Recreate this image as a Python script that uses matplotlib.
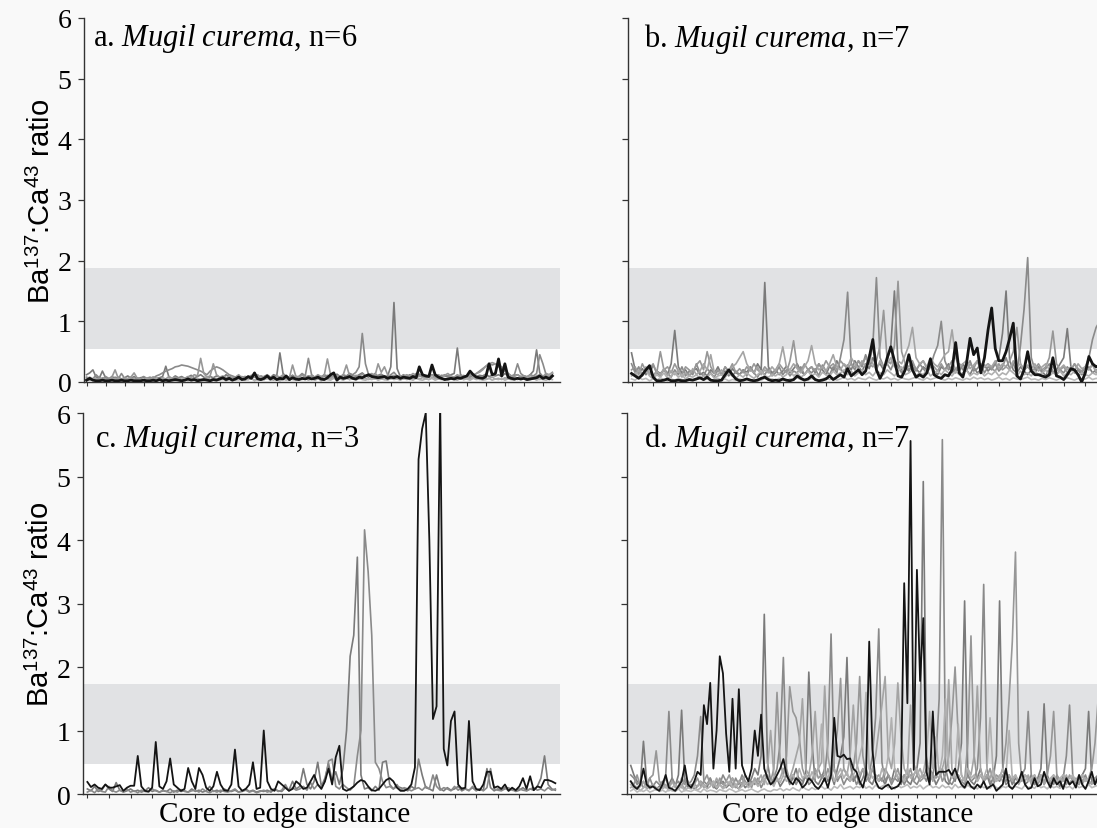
import numpy as np
import matplotlib.pyplot as plt

plt.rcParams['font.family'] = 'Liberation Serif'
plt.rcParams['mathtext.fontset'] = 'custom'
plt.rcParams['mathtext.rm'] = 'Liberation Serif'
plt.rcParams['mathtext.it'] = 'Liberation Serif:italic'
plt.rcParams['mathtext.sf'] = 'Liberation Sans'

# Ba137:Ca43 ratio x 100
# panel a (n=6)
a_black = [3, 6, 3, 2, 2, 3, 2, 2, 3, 2, 2, 3, 2, 2, 3, 2, 2, 2, 3, 2,
           2, 3, 2, 4, 2, 3, 2, 3, 4, 3, 2, 3, 5, 3, 4, 2, 3, 4, 3, 2,
           4, 3, 5, 7, 4, 6, 3, 5, 8, 4, 5, 9, 6, 15, 5, 4, 6, 10, 5, 8,
           4, 6, 5, 10, 4, 7, 5, 4, 6, 5, 7, 5, 6, 8, 5, 4, 7, 12, 15, 3,
           8, 6, 7, 9, 6, 5, 8, 7, 10, 12, 9, 8, 7, 8, 9, 6, 8, 7, 9, 6,
           8, 7, 6, 9, 7, 25, 12, 10, 9, 28, 12, 8, 6, 4, 5, 6, 5, 7, 6, 8,
           10, 18, 12, 8, 7, 6, 9, 30, 12, 14, 38, 10, 30, 8, 6, 5, 6, 5, 6, 4,
           5, 6, 7, 10, 6, 8, 5, 10]
a_g1 = [12, 15, 20, 8, 6, 18, 7, 5, 9, 6, 8, 5, 7, 10, 6, 9, 5, 7, 8, 6,
        5, 8, 6, 7, 9, 26, 8, 6, 10, 7, 9, 6, 8, 11, 7, 9, 12, 8, 6, 9,
        7, 10, 8, 6, 12, 9, 7, 8, 10, 6, 9, 7, 11, 8, 6, 10, 8, 9, 7, 12,
        10, 48, 14, 9, 8, 11, 7, 9, 12, 8, 10, 9, 7, 11, 8, 12, 9, 10, 7, 13,
        9, 11, 8, 14, 10, 9, 12, 15, 10, 8, 12, 9, 11, 13, 8, 10, 25, 131, 22, 9,
        11, 8, 12, 10, 9, 13, 8, 11, 10, 12, 9, 8, 11, 10, 9, 12, 14, 56, 12, 9,
        10, 8, 12, 9, 11, 10, 13, 9, 11, 10, 12, 9, 14, 10, 8, 11, 12, 9, 10, 8,
        12, 18, 53, 15, 9, 11, 8, 14]
a_g2 = [8, 6, 5, 12, 7, 5, 9, 6, 4, 8, 5, 14, 6, 5, 8, 4, 7, 5, 9, 6,
        8, 6, 10, 12, 15, 18, 20, 22, 25, 26, 28, 27, 26, 24, 22, 20, 18, 15, 12, 18,
        22, 25, 23, 20, 16, 12, 10, 8, 7, 9, 6, 8, 7, 10, 8, 6, 9, 12, 8, 6,
        10, 7, 9, 6, 8, 11, 7, 9, 14, 10, 39, 12, 8, 10, 7, 9, 11, 8, 10, 9,
        7, 12, 10, 14, 12, 16, 25, 80, 30, 12, 10, 14, 9, 12, 10, 8, 12, 16, 10, 8,
        12, 9, 10, 8, 14, 11, 9, 7, 10, 12, 8, 11, 9, 12, 10, 8, 7, 9, 11, 8,
        9, 12, 10, 14, 18, 22, 26, 30, 28, 30, 25, 22, 18, 14, 10, 12, 30, 14, 10, 8,
        12, 10, 14, 45, 30, 12, 8, 10]
a_g3 = [5, 8, 4, 6, 3, 7, 5, 4, 8, 20, 6, 4, 7, 5, 8, 15, 6, 5, 4, 7,
        5, 8, 6, 4, 7, 5, 9, 6, 8, 5, 7, 6, 9, 8, 12, 10, 39, 14, 8, 10,
        30, 12, 8, 10, 7, 9, 6, 8, 12, 7, 9, 6, 10, 8, 12, 7, 9, 11, 8, 6,
        10, 8, 12, 9, 7, 28, 10, 8, 11, 9, 7, 10, 8, 12, 9, 11, 38, 12, 8, 10,
        9, 12, 28, 10, 8, 11, 9, 13, 10, 12, 14, 10, 30, 16, 25, 12, 9, 11, 8, 10,
        9, 12, 10, 14, 11, 9, 12, 10, 8, 11, 10, 12, 9, 11, 14, 10, 8, 12, 9, 11,
        8, 10, 12, 14, 16, 20, 26, 30, 32, 30, 28, 25, 20, 14, 10, 9, 12, 8, 10, 9,
        11, 8, 10, 12, 9, 14, 12, 16]
a_g4 = [4, 3, 6, 2, 5, 3, 4, 2, 6, 3, 5, 2, 4, 6, 3, 5, 2, 4, 3, 6,
        3, 5, 2, 4, 6, 3, 5, 7, 4, 6, 3, 5, 4, 7, 3, 6, 4, 5, 8, 4,
        6, 3, 5, 4, 7, 5, 3, 6, 4, 5, 7, 4, 6, 3, 5, 8, 4, 6, 5, 3,
        6, 4, 7, 5, 3, 6, 8, 4, 5, 7, 4, 6, 3, 5, 7, 4, 6, 5, 8, 4,
        6, 5, 7, 4, 8, 6, 5, 9, 6, 4, 7, 5, 8, 6, 4, 7, 5, 9, 6, 8,
        5, 7, 4, 6, 8, 5, 7, 6, 4, 8, 6, 5, 7, 4, 6, 8, 5, 7, 6, 4,
        7, 5, 8, 6, 4, 7, 5, 6, 8, 5, 6, 4, 7, 5, 8, 6, 4, 7, 5, 6,
        8, 5, 7, 4, 6, 9, 12, 14]
a_g5 = [2, 4, 3, 5, 2, 3, 4, 2, 3, 5, 3, 2, 4, 3, 5, 2, 3, 4, 2, 3,
        4, 2, 5, 3, 2, 4, 3, 5, 2, 4, 3, 5, 2, 4, 6, 3, 4, 2, 5, 3,
        4, 6, 3, 5, 2, 4, 6, 3, 4, 5, 3, 4, 6, 2, 5, 3, 4, 6, 3, 5,
        4, 2, 5, 3, 6, 4, 3, 5, 4, 6, 3, 5, 4, 6, 2, 5, 4, 3, 6, 4,
        5, 3, 6, 4, 5, 3, 6, 4, 3, 5, 4, 6, 3, 5, 4, 3, 6, 4, 5, 3,
        6, 4, 5, 3, 6, 4, 3, 5, 4, 6, 3, 5, 4, 6, 3, 5, 4, 3, 6, 4,
        5, 3, 6, 4, 5, 3, 4, 6, 3, 5, 4, 6, 3, 5, 4, 3, 6, 4, 5, 3,
        4, 6, 3, 5, 4, 3, 5, 4]

# panel b (n=7)
b_black = [14, 10, 6, 12, 20, 27, 8, 2, 2, 3, 5, 2, 2, 3, 2, 2, 4, 3, 5, 7,
           4, 8, 3, 2, 2, 3, 12, 20, 12, 5, 2, 3, 5, 3, 2, 3, 6, 8, 4, 2,
           3, 2, 5, 3, 2, 4, 10, 6, 3, 5, 10, 4, 2, 3, 5, 10, 4, 8, 12, 8,
           22, 10, 15, 20, 12, 18, 40, 70, 20, 6, 18, 40, 58, 35, 10, 8, 20, 45, 20, 8,
           12, 8, 15, 38, 12, 8, 6, 12, 10, 20, 65, 15, 8, 30, 72, 45, 56, 15, 40, 86,
           122, 55, 35, 35, 50, 72, 97, 10, 5, 20, 50, 18, 12, 12, 10, 8, 12, 40, 10, 8,
           4, 12, 22, 20, 12, 0, 15, 42, 30, 25, 28]
b_g1 = [48, 20, 15, 22, 12, 25, 10, 18, 14, 20, 12, 30, 85, 25, 15, 20, 10, 18, 22, 12,
        16, 10, 20, 14, 25, 12, 18, 10, 22, 15, 12, 20, 16, 25, 14, 30, 20, 164, 25, 15,
        20, 12, 18, 26, 15, 22, 30, 18, 12, 20, 25, 15, 30, 20, 12, 26, 18, 35, 22, 15,
        28, 20, 35, 25, 18, 30, 22, 40, 25, 30, 20, 35, 60, 150, 30, 20, 25, 18, 30, 22,
        15, 25, 20, 30, 18, 12, 25, 20, 30, 15, 22, 18, 30, 20, 12, 25, 15, 20, 28, 18,
        25, 30, 40, 80, 150, 35, 20, 15, 25, 18, 12, 20, 15, 25, 18, 10, 22, 15, 20, 30,
        40, 88, 25, 15, 20, 12, 18, 25, 15, 20, 22]
b_g2 = [30, 15, 25, 10, 20, 12, 28, 15, 10, 22, 15, 8, 20, 12, 25, 10, 18, 12, 30, 15,
        10, 22, 15, 8, 20, 12, 25, 15, 10, 18, 12, 20, 10, 25, 15, 8, 18, 12, 22, 10,
        15, 25, 12, 20, 10, 18, 15, 25, 12, 20, 15, 22, 10, 28, 18, 12, 25, 15, 40, 70,
        148, 30, 20, 35, 25, 45, 30, 60, 172, 40, 25, 30, 20, 35, 25, 15, 30, 20, 25, 18,
        30, 22, 15, 25, 45, 60, 100, 35, 20, 25, 15, 30, 20, 25, 35, 18, 22, 30, 15, 25,
        20, 30, 18, 25, 40, 22, 30, 15, 60, 120, 205, 40, 20, 25, 15, 22, 30, 18, 12, 20,
        15, 25, 18, 30, 20, 15, 25, 40, 70, 90, 100]
b_g3 = [20, 25, 12, 30, 18, 22, 30, 15, 50, 20, 25, 15, 30, 18, 12, 25, 20, 15, 28, 35,
        20, 50, 25, 15, 20, 12, 25, 18, 30, 15, 22, 15, 25, 18, 30, 20, 15, 25, 18, 12,
        20, 30, 22, 15, 35, 68, 25, 18, 30, 20, 25, 18, 30, 22, 35, 25, 30, 20, 35, 28,
        22, 30, 25, 35, 28, 40, 30, 25, 35, 60, 118, 35, 30, 60, 166, 50, 30, 25, 35, 20,
        28, 35, 22, 30, 25, 18, 30, 20, 25, 35, 20, 30, 25, 18, 30, 22, 35, 20, 25, 30,
        22, 18, 30, 20, 25, 35, 50, 90, 30, 20, 25, 18, 22, 30, 20, 25, 40, 84, 30, 20,
        25, 15, 20, 30, 22, 18, 25, 20, 30, 15, 20]
b_g4 = [15, 10, 20, 12, 25, 15, 8, 18, 12, 22, 10, 18, 12, 20, 8, 15, 10, 22, 12, 18,
        30, 20, 45, 15, 12, 20, 10, 18, 25, 30, 40, 50, 30, 20, 15, 25, 12, 20, 15, 25,
        18, 30, 58, 25, 20, 30, 22, 15, 25, 35, 60, 30, 20, 25, 18, 30, 45, 25, 20, 30,
        25, 40, 30, 20, 35, 25, 45, 30, 20, 35, 25, 30, 40, 25, 35, 30, 45, 60, 90, 40,
        30, 35, 25, 40, 30, 25, 35, 45, 50, 86, 40, 25, 30, 35, 22, 28, 35, 20, 25, 30,
        25, 35, 22, 30, 25, 20, 35, 25, 30, 20, 28, 22, 30, 18, 25, 30, 20, 25, 18, 22,
        28, 20, 25, 18, 30, 22, 25, 20, 28, 18, 25]
b_g5 = [10, 15, 8, 12, 18, 10, 5, 12, 8, 15, 6, 10, 15, 8, 12, 5, 10, 8, 12, 6,
        10, 8, 14, 6, 10, 12, 8, 15, 10, 6, 12, 8, 15, 10, 6, 12, 18, 10, 8, 12,
        10, 15, 8, 12, 20, 10, 15, 8, 12, 18, 10, 14, 8, 16, 12, 10, 18, 12, 15, 20,
        12, 18, 10, 15, 20, 12, 16, 10, 18, 15, 12, 20, 15, 10, 18, 25, 12, 15, 20, 10,
        15, 12, 20, 10, 15, 18, 12, 20, 15, 10, 18, 12, 15, 20, 10, 15, 12, 18, 10, 15,
        12, 18, 10, 15, 12, 20, 15, 10, 18, 12, 15, 10, 18, 12, 15, 20, 10, 15, 12, 18,
        10, 15, 12, 18, 10, 15, 12, 10, 15, 12, 18]
b_g6 = [5, 3, 8, 4, 6, 2, 5, 3, 7, 4, 2, 5, 3, 6, 4, 2, 5, 3, 4, 6,
        3, 5, 2, 4, 6, 3, 5, 2, 4, 3, 5, 3, 6, 4, 2, 5, 3, 6, 4, 5,
        3, 6, 4, 2, 5, 3, 7, 4, 5, 3, 6, 4, 3, 5, 7, 4, 6, 3, 5, 8,
        4, 6, 3, 7, 5, 4, 8, 5, 3, 6, 5, 8, 4, 6, 3, 7, 5, 4, 6, 8,
        5, 3, 7, 4, 6, 8, 5, 3, 6, 4, 7, 5, 3, 6, 4, 8, 5, 7, 4, 6,
        3, 5, 8, 4, 6, 3, 7, 5, 4, 6, 8, 4, 5, 3, 6, 4, 7, 5, 3, 6,
        4, 7, 5, 3, 6, 4, 5, 8, 4, 6, 5]

# panel c (n=3)
c_black = [19, 11, 15, 10, 8, 15, 10, 10, 12, 14, 5, 10, 13, 13, 60, 12, 5, 4, 10, 82,
           12, 8, 20, 56, 15, 10, 5, 8, 41, 20, 8, 41, 30, 10, 5, 12, 35, 15, 6, 5,
           15, 70, 12, 5, 8, 15, 50, 8, 10, 100, 20, 8, 5, 20, 15, 10, 5, 8, 20, 15,
           8, 10, 20, 30, 15, 8, 20, 40, 15, 58, 76, 8, 5, 8, 12, 18, 22, 20, 12, 6,
           5, 8, 15, 22, 25, 20, 10, 5, 5, 8, 15, 42, 527, 575, 600, 400, 118, 138, 620, 71,
           45, 115, 130, 15, 8, 10, 115, 20, 8, 6, 15, 35, 35, 10, 12, 8, 15, 5, 10, 6,
           12, 25, 8, 28, 6, 12, 10, 22, 22, 20, 17]
c_g1 = [8, 5, 12, 4, 6, 15, 8, 4, 18, 6, 3, 5, 8, 4, 6, 3, 5, 10, 4, 6,
        3, 5, 4, 8, 3, 6, 4, 5, 3, 8, 4, 6, 3, 5, 12, 4, 6, 3, 8, 5,
        4, 6, 3, 5, 8, 4, 6, 3, 5, 4, 6, 3, 8, 5, 4, 10, 6, 20, 8, 12,
        40, 15, 8, 20, 50, 12, 25, 48, 20, 35, 15, 40, 100, 217, 250, 373, 30, 8, 10, 5,
        12, 6, 50, 52, 15, 8, 12, 10, 8, 5, 12, 8, 55, 30, 10, 8, 5, 30, 8, 5,
        10, 6, 8, 12, 5, 8, 6, 10, 5, 8, 6, 40, 10, 5, 8, 6, 10, 5, 8, 4,
        6, 10, 5, 8, 6, 12, 25, 60, 15, 8, 6]
c_g2 = [3, 6, 2, 8, 4, 3, 12, 5, 3, 6, 4, 8, 3, 5, 2, 6, 4, 3, 8, 5,
        3, 6, 4, 2, 5, 3, 7, 4, 3, 5, 6, 3, 8, 4, 2, 5, 3, 6, 4, 3,
        5, 8, 3, 4, 6, 3, 5, 2, 4, 6, 3, 5, 8, 4, 6, 15, 5, 10, 6, 8,
        12, 6, 18, 8, 15, 10, 20, 52, 55, 12, 8, 15, 10, 6, 12, 60, 100, 416, 350, 250,
        50, 40, 20, 10, 12, 8, 15, 6, 10, 8, 5, 8, 10, 6, 12, 8, 30, 12, 6, 10,
        8, 5, 12, 6, 10, 8, 5, 12, 6, 8, 5, 10, 40, 8, 6, 5, 8, 10, 6, 5,
        8, 6, 5, 8, 10, 6, 8, 5, 10, 6, 8]

# panel d (n=7)
d_black = [20, 12, 8, 15, 40, 15, 10, 12, 8, 5, 15, 30, 10, 8, 5, 12, 20, 45, 15, 10,
           20, 35, 30, 140, 110, 175, 40, 100, 217, 190, 95, 35, 150, 40, 165, 45, 30, 20, 40, 100,
           60, 125, 40, 25, 15, 20, 30, 40, 55, 30, 20, 15, 25, 20, 10, 15, 25, 20, 12, 8,
           15, 25, 10, 30, 120, 60, 58, 62, 55, 56, 40, 35, 20, 10, 30, 240, 70, 20, 10, 8,
           12, 15, 8, 10, 12, 20, 332, 143, 556, 38, 353, 178, 277, 35, 15, 130, 30, 35, 35, 35,
           38, 30, 40, 25, 15, 10, 20, 12, 8, 15, 10, 20, 8, 12, 15, 5, 10, 15, 40, 12,
           8, 15, 20, 35, 15, 8, 10, 25, 12, 15, 35, 20, 10, 25, 15, 20, 8, 25, 15, 20,
           10, 30, 15, 8, 20, 35, 15, 28]
d_g1 = [45, 30, 20, 15, 83, 20, 10, 15, 8, 12, 20, 10, 15, 25, 12, 30, 132, 20, 10, 15,
        8, 12, 20, 15, 10, 25, 12, 8, 15, 20, 10, 15, 25, 12, 8, 18, 10, 15, 25, 40,
        30, 60, 283, 50, 20, 15, 25, 12, 20, 30, 15, 25, 40, 20, 15, 30, 192, 80, 20, 15,
        25, 40, 20, 30, 15, 40, 60, 90, 215, 50, 20, 30, 15, 25, 40, 20, 15, 30, 20, 25,
        15, 30, 20, 40, 25, 15, 30, 20, 15, 30, 40, 80, 492, 60, 20, 30, 15, 25, 40, 20,
        15, 30, 20, 40, 80, 304, 30, 20, 15, 25, 40, 20, 30, 15, 25, 60, 304, 40, 20, 30,
        15, 25, 20, 30, 15, 20, 30, 15, 25, 40, 142, 30, 15, 20, 25, 10, 30, 20, 15, 25,
        20, 15, 30, 40, 130, 20, 15, 25]
d_g2 = [30, 25, 15, 20, 10, 15, 25, 12, 20, 15, 10, 30, 130, 25, 15, 20, 10, 25, 15, 20,
        30, 60, 122, 20, 15, 25, 10, 20, 15, 30, 20, 15, 10, 25, 15, 30, 20, 12, 20, 15,
        25, 10, 20, 30, 15, 25, 40, 80, 215, 40, 20, 30, 15, 25, 20, 30, 15, 20, 30, 40,
        25, 30, 80, 252, 40, 20, 30, 15, 25, 20, 30, 15, 25, 40, 20, 30, 60, 120, 260, 50,
        20, 30, 15, 25, 20, 30, 15, 25, 30, 20, 15, 25, 30, 20, 40, 30, 60, 150, 558, 40,
        20, 15, 25, 30, 20, 15, 30, 20, 25, 40, 120, 330, 40, 20, 15, 25, 20, 30, 15, 20,
        25, 15, 20, 30, 40, 130, 25, 15, 20, 30, 15, 25, 20, 15, 30, 20, 25, 60, 140, 30,
        15, 25, 20, 30, 15, 20, 25, 30]
d_g3 = [20, 15, 30, 12, 20, 10, 25, 30, 68, 20, 15, 25, 10, 20, 15, 10, 25, 15, 20, 10,
        15, 25, 12, 20, 30, 15, 20, 10, 25, 15, 20, 30, 15, 10, 20, 25, 15, 20, 10, 25,
        15, 20, 30, 25, 20, 40, 160, 50, 30, 60, 169, 130, 120, 90, 40, 25, 30, 20, 40, 25,
        30, 20, 40, 25, 60, 100, 182, 40, 30, 25, 40, 80, 185, 60, 30, 20, 40, 25, 30, 20,
        40, 30, 20, 25, 40, 20, 30, 25, 40, 20, 30, 20, 25, 40, 20, 30, 25, 40, 20, 30,
        60, 120, 200, 90, 30, 20, 80, 249, 60, 20, 30, 20, 25, 40, 20, 30, 25, 40, 80, 150,
        240, 381, 80, 20, 30, 25, 20, 30, 15, 25, 20, 30, 60, 130, 30, 20, 25, 15, 30, 20,
        25, 15, 30, 20, 25, 40, 80, 150]
d_g4 = [10, 15, 8, 12, 20, 8, 12, 15, 10, 8, 12, 15, 8, 20, 10, 12, 15, 8, 20, 10,
        15, 12, 20, 10, 15, 20, 12, 25, 15, 10, 20, 15, 25, 12, 20, 15, 30, 20, 15, 25,
        20, 30, 15, 40, 100, 30, 20, 25, 40, 30, 25, 40, 60, 80, 150, 40, 30, 60, 130, 40,
        50, 170, 60, 30, 40, 25, 30, 40, 30, 60, 140, 50, 30, 40, 25, 30, 40, 60, 100, 140,
        185, 60, 40, 80, 175, 90, 40, 30, 140, 50, 30, 40, 25, 30, 40, 20, 30, 25, 40, 60,
        180, 40, 25, 30, 20, 25, 40, 30, 60, 170, 40, 20, 30, 25, 40, 20, 30, 20, 25, 30,
        20, 30, 15, 25, 20, 30, 15, 25, 20, 30, 15, 25, 20, 30, 15, 25, 20, 30, 15, 25,
        20, 30, 15, 25, 20, 15, 25, 20]
d_g5 = [15, 8, 12, 5, 10, 15, 8, 12, 6, 10, 8, 12, 5, 10, 15, 8, 12, 5, 10, 8,
        12, 6, 10, 15, 8, 12, 20, 10, 15, 8, 12, 20, 10, 15, 8, 12, 18, 10, 15, 20,
        12, 18, 25, 15, 20, 12, 25, 18, 30, 20, 25, 30, 20, 40, 25, 30, 20, 35, 25, 40,
        110, 30, 25, 40, 20, 30, 40, 25, 35, 20, 30, 40, 60, 80, 160, 40, 25, 30, 20, 40,
        30, 60, 120, 40, 25, 30, 20, 40, 25, 30, 40, 25, 35, 60, 130, 40, 90, 30, 60, 150,
        40, 25, 30, 110, 30, 20, 40, 25, 30, 20, 30, 25, 40, 120, 30, 20, 25, 40, 30, 100,
        25, 30, 20, 25, 30, 20, 25, 30, 20, 25, 30, 20, 25, 30, 20, 25, 30, 20, 25, 30,
        20, 25, 30, 20, 25, 30, 20, 25]
d_g6 = [5, 8, 3, 6, 4, 7, 3, 5, 8, 4, 6, 3, 7, 5, 4, 8, 3, 6, 5, 4,
        7, 5, 3, 8, 4, 6, 5, 3, 7, 5, 4, 8, 6, 3, 5, 7, 4, 6, 8, 5,
        3, 6, 8, 5, 4, 7, 6, 9, 5, 8, 6, 10, 7, 5, 12, 8, 6, 10, 7, 9,
        12, 8, 10, 6, 12, 9, 15, 8, 10, 12, 8, 12, 10, 15, 9, 12, 8, 14, 10, 12,
        15, 10, 12, 8, 14, 10, 12, 15, 9, 12, 10, 14, 8, 12, 15, 10, 12, 9, 14, 10,
        12, 8, 15, 10, 12, 9, 14, 10, 12, 8, 14, 10, 12, 9, 15, 10, 8, 12, 10, 14,
        9, 12, 10, 8, 14, 10, 12, 9, 15, 10, 12, 8, 14, 10, 12, 9, 15, 10, 12, 8,
        14, 10, 12, 9, 15, 10, 12, 14]

panel_letters = ['a.', 'b.', 'c.', 'd.']
n_fish = [6, 7, 3, 7]
ytick_vals = [0, 1, 2, 3, 4, 5, 6]

grays = ['#7a7a7a', '#8a8a8a', '#979797', '#a4a4a4', '#b0b0b0', '#bcbcbc']
bg = '#f9f9f9'

fig = plt.figure(figsize=(10.97, 8.29), dpi=100, facecolor=bg)


def panel(rect, xlim, xtick_step, gray_lines, black, black_lw, band, ylab):
    ax = fig.add_axes(rect)
    ax.set_facecolor(bg)
    ax.axhspan(0, band[0], color='white', lw=0, zorder=0)
    ax.axhspan(band[0], band[1], color='#e1e2e4', lw=0, zorder=0)
    for i, s in enumerate(gray_lines):
        ax.plot(np.arange(len(s)), np.array(s) / 100, color=grays[i], lw=1.2, zorder=2)
    ax.plot(np.arange(len(black)), np.array(black) / 100, color='#141414', lw=black_lw, zorder=3)
    ax.set_xlim(*xlim)
    ax.set_ylim(0, 6)
    ax.set_xticks(np.arange(0, xlim[1] - 4, xtick_step))
    ax.set_xticklabels([])
    ax.set_yticks(ytick_vals)
    if ylab:
        ax.set_yticklabels([str(v) for v in ytick_vals], fontsize=20)
        ax.set_ylabel('Ba$^{\\mathsf{137}}$:Ca$^{\\mathsf{43}}$ ratio',
                      family='Liberation Sans', fontsize=21)
        ax.yaxis.set_label_coords(-0.058, 0.5)
    else:
        ax.set_yticklabels([])
    ax.tick_params(axis='y', direction='out', length=4, width=0.9, pad=5, color='#333333')
    ax.tick_params(axis='x', direction='out', length=3, width=0.8, color='#333333')
    for side in ['top', 'right']:
        ax.spines[side].set_visible(False)
    for side in ['left', 'bottom']:
        ax.spines[side].set_color('#333333')
        ax.spines[side].set_linewidth(1.0)
    return ax


band_top = (0.55, 1.88)
band_bot = (0.47, 1.73)

panel([0.0766, 0.538, 0.4339, 0.4391], (-0.8, 149.4), 6,
      [a_g1, a_g2, a_g3, a_g4, a_g5], a_black, 2.0, band_top, True)
panel([0.5725, 0.538, 0.4303, 0.4391], (-0.97, 130.1), 6,
      [b_g1, b_g2, b_g3, b_g4, b_g5, b_g6], b_black, 2.0, band_top, False)
panel([0.0757, 0.041, 0.4348, 0.4596], (-1.2, 131.3), 6,
      [c_g1, c_g2], c_black, 1.3, band_bot, True)
panel([0.5716, 0.041, 0.4312, 0.4596], (-1.16, 147.6), 6,
      [d_g1, d_g2, d_g3, d_g4, d_g5, d_g6], d_black, 1.3, band_bot, False)

title_pos = [(93, 46), (644, 47), (95, 447), (644, 447)]
for (px, py), letter, n in zip(title_pos, panel_letters, n_fish):
    fig.text(px / 1097, 1 - py / 829,
             letter + ' $\\mathit{Mugil\\ curema}$, n=' + str(n),
             fontsize=22, va='baseline', ha='left')

for cx in [285, 848]:
    fig.text(cx / 1097, 1 - 822 / 829, 'Core to edge distance',
             fontsize=21, va='baseline', ha='center')

fig.savefig('out.png', dpi=100, facecolor=bg)
